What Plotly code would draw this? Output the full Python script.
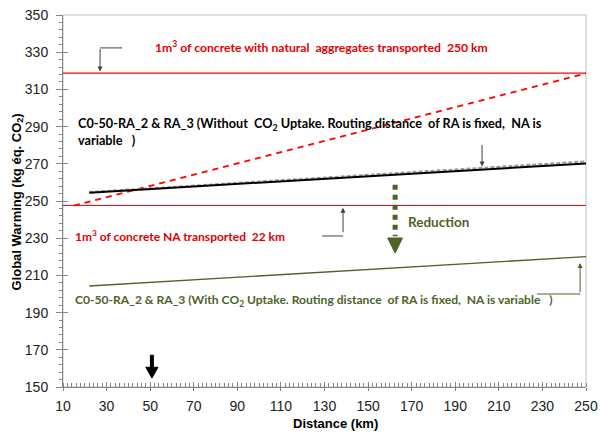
import plotly.graph_objects as go

# ---- data ----
dist_ends = [22, 250]                 # RA_2 & RA_3 series span (km)
without_uptake = [254.5, 270.2]       # black solid
without_uptake_b = [254.8, 271.3]     # gray dashed
with_uptake = [204.3, 220.1]          # green
na_var_dist = [15, 250]               # red dashed, NA distance variable
na_var = [247.5, 318.6]
ref_dist = [10, 250]
na_250 = [318.7, 318.7]               # 1 m3 NA transported 250 km
na_22 = [247.6, 247.6]                # 1 m3 NA transported 22 km

x_ticks = list(range(10, 251, 20))
y_ticks = list(range(150, 351, 20))

RED = "#ff0000"
RED_T = "#e00000"
GREEN = "#4f6228"
TXT_FONT = "Lato"

fig = go.Figure()
fig.add_trace(go.Scatter(x=ref_dist, y=na_250, mode="lines", line=dict(color=RED, width=1.3)))
fig.add_trace(go.Scatter(x=ref_dist, y=na_22, mode="lines", line=dict(color=RED, width=1)))
fig.add_trace(go.Scatter(x=na_var_dist, y=na_var, mode="lines", line=dict(color=RED, width=2, dash="6px,5px")))
fig.add_trace(go.Scatter(x=dist_ends, y=with_uptake, mode="lines", line=dict(color=GREEN, width=1.3)))
fig.add_trace(go.Scatter(x=dist_ends, y=without_uptake_b, mode="lines", line=dict(color="#9a9a9a", width=2, dash="4px,2px")))
fig.add_trace(go.Scatter(x=dist_ends, y=without_uptake, mode="lines", line=dict(color="#000000", width=2)))

shapes = []
ann = []
CALL = "#404040"
# callout top red line
shapes.append(dict(type="line", x0=27.0, x1=37.1, y0=332.3, y1=332.3, line=dict(color=CALL, width=1)))
ann.append(dict(x=27.0, y=319.6, ax=0, ay=-24, showarrow=True, arrowhead=2, arrowsize=1, arrowwidth=1, arrowcolor=CALL, text=""))
# arrow to gray dashed
ann.append(dict(x=202.3, y=268.6, ax=0, ay=-23, showarrow=True, arrowhead=2, arrowsize=1, arrowwidth=1, arrowcolor=CALL, text=""))
# callout 22 km
shapes.append(dict(type="line", x0=128.9, x1=138.5, y0=231.2, y1=231.2, line=dict(color=CALL, width=1)))
ann.append(dict(x=138.5, y=246.4, ax=0, ay=26, showarrow=True, arrowhead=2, arrowsize=1, arrowwidth=1, arrowcolor=CALL, text=""))
# green callout
shapes.append(dict(type="line", x0=227.5, x1=247.3, y0=200.0, y1=200.0, line=dict(color=GREEN, width=1)))
ann.append(dict(x=247.3, y=216.7, ax=0, ay=31, showarrow=True, arrowhead=2, arrowsize=1, arrowwidth=1, arrowcolor=GREEN, text=""))
# reduction arrow
shapes.append(dict(type="line", x0=162.4, x1=162.4, y0=258.8, y1=231.0, line=dict(color=GREEN, width=5, dash="dot")))
shapes.append(dict(type="path", path="M 159.0 230.1 L 165.8 230.1 L 162.4 222.0 Z", fillcolor=GREEN, line=dict(color=GREEN, width=1)))
# black bottom arrow
shapes.append(dict(type="line", x0=50.8, x1=50.8, y0=167.3, y1=160.0, line=dict(color="#000000", width=4)))
shapes.append(dict(type="path", path="M 48.0 160.6 L 53.6 160.6 L 50.8 154.8 Z", fillcolor="#000000", line=dict(color="#000000", width=1)))
# frame
shapes.append(dict(type="rect", xref="paper", yref="paper", x0=0, x1=1, y0=0, y1=1, line=dict(color="#c0c0c0", width=1), layer="below"))

ann.append(dict(x=51.3, y=332.8, xanchor="left", yanchor="middle", showarrow=False,
                text="<b>1m<sup>3</sup> of concrete with natural  aggregates transported  250 km</b>",
                font=dict(family=TXT_FONT, size=12.2, color=RED_T)))
ann.append(dict(x=16.0, y=291.4, xanchor="left", yanchor="middle", showarrow=False,
                text="<b>C0-50-RA_2 &amp; RA_3 (Without  CO<sub>2</sub> Uptake. Routing distance  of RA is fixed,  NA is</b>",
                font=dict(family=TXT_FONT, size=12.7, color="#000000")))
ann.append(dict(x=16.0, y=282.6, xanchor="left", yanchor="middle", showarrow=False,
                text="<b>variable   )</b>", font=dict(family=TXT_FONT, size=12.7, color="#000000")))
ann.append(dict(x=14.6, y=231.2, xanchor="left", yanchor="middle", showarrow=False,
                text="<b>1m<sup>3</sup> of concrete NA transported  22 km</b>",
                font=dict(family=TXT_FONT, size=12.0, color=RED_T)))
ann.append(dict(x=167.4, y=238.9, xanchor="left", yanchor="middle", showarrow=False,
                text="<b>Reduction</b>", font=dict(family=TXT_FONT, size=13.5, color=GREEN)))
ann.append(dict(x=14.6, y=196.4, xanchor="left", yanchor="middle", showarrow=False,
                text="<b>C0-50-RA_2 &amp; RA_3 (With CO<sub>2</sub> Uptake. Routing distance  of RA is fixed,  NA is variable   )</b>",
                font=dict(family=TXT_FONT, size=12.1, color=GREEN)))
# axis titles
ann.append(dict(xref="paper", yref="paper", x=(335-63)/523, y=-(424-387)/372, xanchor="center", yanchor="middle",
                showarrow=False, text="<b>Distance (km)</b>",
                font=dict(family="Liberation Sans", size=13, color="#000000")))
ann.append(dict(xref="paper", yref="paper", x=-(63-16.5)/523, y=(387-202)/372, xanchor="center", yanchor="middle",
                showarrow=False, textangle=-90, text="<b>Global Warming (kg éq. CO<sub>2</sub>)</b>",
                font=dict(family="Liberation Sans", size=13, color="#000000")))

AX = "#868686"
fig.update_layout(
    width=600, height=434,
    margin=dict(l=63, r=14, t=15, b=47, autoexpand=False),
    paper_bgcolor="white", plot_bgcolor="white",
    showlegend=False,
    shapes=shapes, annotations=ann,
    xaxis=dict(range=[10, 250], tickvals=x_ticks, showgrid=False, zeroline=False, automargin=False,
               showline=True, linecolor=AX, linewidth=1, ticklabeloverflow="allow",
               ticks="outside", ticklen=3, tickcolor=AX, ticklabelstandoff=3,
               minor=dict(dtick=2, tick0=10, ticks="inside", ticklen=4, tickcolor=AX, showgrid=False),
               tickfont=dict(family="Liberation Sans", size=14, color="#222222")),
    yaxis=dict(range=[150, 350], tickvals=y_ticks, showgrid=False, zeroline=False, automargin=False,
               showline=True, linecolor=AX, linewidth=1, ticklabeloverflow="allow",
               ticks="outside", ticklen=6, tickcolor=AX, ticklabelstandoff=5,
               minor=dict(dtick=4, tick0=150, ticks="outside", ticklen=3, tickcolor=AX, showgrid=False),
               tickfont=dict(family="Liberation Sans", size=14, color="#222222")),
    xaxis2=dict(range=[10, 250], overlaying="x", tickvals=x_ticks, ticks="inside", ticklen=5, tickcolor=AX,
                automargin=False, showticklabels=False, showgrid=False, zeroline=False, showline=False),
    yaxis2=dict(range=[150, 350], overlaying="y", tickvals=y_ticks, ticks="inside", ticklen=5, tickcolor=AX,
                automargin=False, showticklabels=False, showgrid=False, zeroline=False, showline=False),
)
# invisible trace to anchor overlay axes
fig.add_trace(go.Scatter(x=[10], y=[150], xaxis="x2", yaxis="y2", mode="markers",
                         marker=dict(opacity=0), hoverinfo="skip"))

# remove the page's default body margin so the 600x434 figure fills the window exactly
fig.write_html("out.html", config={"displayModeBar": False},
               post_script="document.body.style.margin='0px';document.body.style.overflow='hidden';")
